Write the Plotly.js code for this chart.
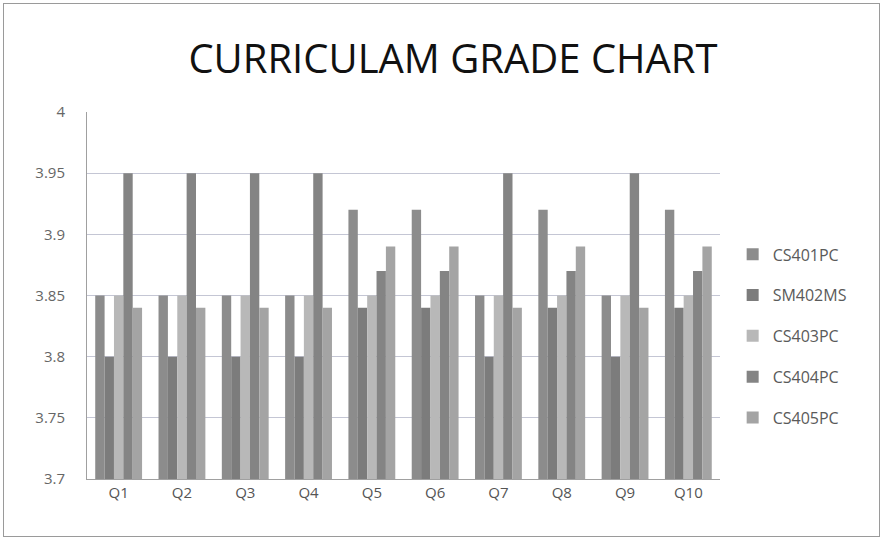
<!DOCTYPE html>
<html><head><meta charset="utf-8">
<script src="https://cdn.plot.ly/plotly-3.0.1.min.js"></script>
<style>body{margin:0;background:#fff}#wrap{position:relative;width:883px;height:540px}
#frame{position:absolute;left:3px;top:3px;width:875px;height:532px;border:1px solid #9a9a9a;pointer-events:none}</style>
</head><body><div id="wrap"><div id="chart" style="width:883px;height:540px"></div><div id="frame"></div></div>
<script>
const categories = ['Q1','Q2','Q3','Q4','Q5','Q6','Q7','Q8','Q9','Q10'];
const seriesNames = ['CS401PC','SM402MS','CS403PC','CS404PC','CS405PC'];
const CS401PC = [3.85,3.85,3.85,3.85,3.92,3.92,3.85,3.92,3.85,3.92];
const SM402MS = [3.80,3.80,3.80,3.80,3.84,3.84,3.80,3.84,3.80,3.84];
const CS403PC = [3.85,3.85,3.85,3.85,3.85,3.85,3.85,3.85,3.85,3.85];
const CS404PC = [3.95,3.95,3.95,3.95,3.87,3.87,3.95,3.87,3.95,3.87];
const CS405PC = [3.84,3.84,3.84,3.84,3.89,3.89,3.84,3.89,3.84,3.89];
const seriesValues = [CS401PC, SM402MS, CS403PC, CS404PC, CS405PC];
const colors = ['#8c8c8c','#7c7c7c','#b8b8b8','#848484','#a4a4a4'];
const yTicks = [3.7,3.75,3.8,3.85,3.9,3.95,4];
const yTickText = ['3.7','3.75','3.8','3.85','3.9','3.95','4'];
const baseline = 3.7;

const traces = seriesNames.map((n,i)=>({
  type:'bar', name:n, x:categories, y:seriesValues[i].map(v=>+(v-baseline).toFixed(4)), base:baseline,
  marker:{color:colors[i], line:{width:0}}, legendgroup:n
}));

Plotly.newPlot('chart', traces, {
  width:883, height:540,
  margin:{l:87, r:163, t:112, b:61},
  paper_bgcolor:'#ffffff', plot_bgcolor:'#ffffff',
  title:{text:'CURRICULAM GRADE CHART', x:0.513, xanchor:'center', y:0.89, yanchor:'middle',
    font:{family:'Open Sans, Lato, sans-serif', size:40, color:'#111111'}},
  barmode:'group', bargap:0.26, bargroupgap:0,
  xaxis:{tickfont:{family:'Open Sans, sans-serif', size:15, color:'#555'}, showline:true,
    linecolor:'#a0a0a0', linewidth:1, ticks:'', showgrid:false},
  yaxis:{range:[3.7,4], tickvals:yTicks, ticktext:yTickText, tickmode:'array',
    tickfont:{family:'Open Sans, sans-serif', size:15, color:'#666'},
    showgrid:true, gridcolor:'#c4c6d4', gridwidth:1, zeroline:false,
    showline:true, linecolor:'#a0a0a0', linewidth:1, ticks:'', ticklabelstandoff:18},
  legend:{x:1.02, xanchor:'left', y:0.39, yanchor:'middle', traceorder:'grouped', tracegroupgap:17,
    font:{family:'Open Sans, sans-serif', size:16, color:'#5a5a5a'}, itemwidth:30},
  showlegend:true
}, {displayModeBar:false, staticPlot:true});
</script></body></html>
